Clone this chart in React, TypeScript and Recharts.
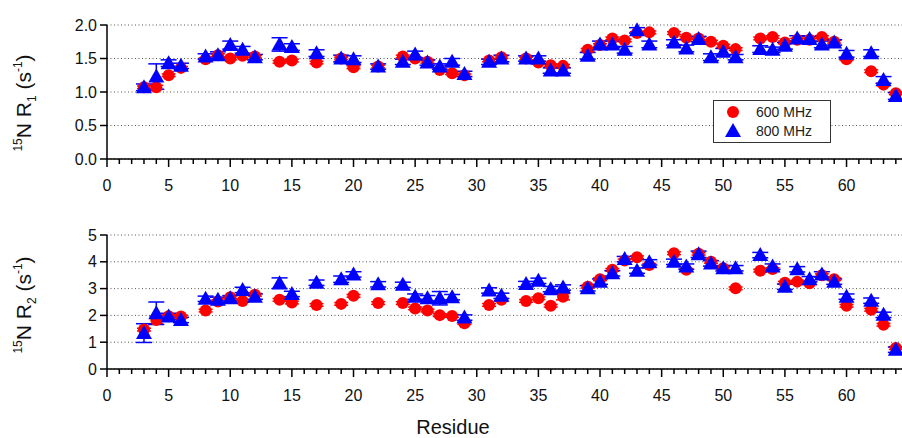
import React from "react";
import { ScatterChart, Scatter, XAxis, YAxis, CartesianGrid, ErrorBar } from "recharts";

const residues = [3,4,5,6,8,9,10,11,12,14,15,17,19,20,22,24,25,26,27,28,29,31,32,34,35,36,37,39,40,41,42,43,44,46,47,48,49,50,51,53,54,55,56,57,58,59,60,62,63,64];

const r1_600 = [1.07,1.07,1.25,1.36,1.49,1.55,1.50,1.54,1.53,1.45,1.47,1.44,1.50,1.37,1.38,1.53,1.50,1.45,1.33,1.28,1.25,1.47,1.52,1.50,1.44,1.40,1.39,1.63,1.70,1.80,1.77,1.88,1.89,1.88,1.81,1.80,1.75,1.69,1.64,1.80,1.82,1.74,1.78,1.78,1.82,1.75,1.49,1.31,1.11,0.98];
const r1_800 = [1.07,1.23,1.43,1.39,1.53,1.55,1.70,1.63,1.52,1.71,1.67,1.58,1.50,1.49,1.38,1.45,1.56,1.44,1.38,1.45,1.27,1.45,1.50,1.50,1.50,1.32,1.32,1.54,1.71,1.71,1.63,1.92,1.71,1.74,1.65,1.79,1.52,1.60,1.52,1.64,1.63,1.69,1.80,1.79,1.71,1.74,1.57,1.58,1.18,0.94];
const r1_600_err = [0.02,0.03,0.02,0.02,0.02,0.02,0.02,0.02,0.02,0.02,0.02,0.02,0.02,0.02,0.02,0.02,0.02,0.02,0.02,0.02,0.02,0.02,0.02,0.02,0.02,0.02,0.02,0.02,0.02,0.02,0.02,0.02,0.02,0.02,0.02,0.02,0.02,0.02,0.02,0.02,0.02,0.02,0.02,0.02,0.02,0.02,0.02,0.02,0.02,0.02];
const r1_800_err = [0.05,0.19,0.05,0.04,0.04,0.05,0.06,0.05,0.04,0.10,0.05,0.05,0.05,0.05,0.04,0.04,0.05,0.04,0.04,0.05,0.04,0.04,0.05,0.04,0.04,0.04,0.04,0.05,0.05,0.05,0.05,0.04,0.05,0.04,0.05,0.04,0.05,0.05,0.04,0.05,0.04,0.05,0.04,0.04,0.05,0.04,0.05,0.05,0.05,0.05];

const r2_600 = [1.47,1.83,1.97,1.96,2.18,2.52,2.68,2.54,2.77,2.58,2.48,2.39,2.43,2.73,2.46,2.46,2.26,2.18,2.01,1.98,1.71,2.39,2.58,2.54,2.64,2.36,2.70,3.07,3.35,3.70,4.05,4.17,3.88,4.32,3.70,4.30,4.00,3.76,3.01,3.67,3.73,3.22,3.26,3.20,3.50,3.35,2.36,2.21,1.65,0.78];
const r2_800 = [1.34,2.08,1.96,1.83,2.62,2.58,2.64,2.95,2.70,3.20,2.80,3.22,3.35,3.53,3.16,3.14,2.70,2.64,2.64,2.68,1.92,2.93,2.73,3.17,3.29,2.98,3.04,3.01,3.26,3.57,4.10,3.67,3.98,4.00,3.82,4.28,3.94,3.76,3.76,4.25,3.82,3.07,3.72,3.35,3.53,3.26,2.70,2.55,2.02,0.72];
const r2_600_err = [0.05,0.14,0.05,0.05,0.05,0.05,0.05,0.05,0.05,0.05,0.05,0.05,0.05,0.05,0.05,0.05,0.05,0.05,0.05,0.05,0.05,0.05,0.05,0.05,0.05,0.05,0.12,0.05,0.05,0.05,0.05,0.05,0.05,0.05,0.05,0.05,0.05,0.05,0.05,0.05,0.05,0.05,0.05,0.05,0.05,0.05,0.05,0.05,0.05,0.05];
const r2_800_err = [0.35,0.42,0.12,0.1,0.1,0.1,0.1,0.1,0.1,0.2,0.1,0.1,0.12,0.1,0.1,0.1,0.1,0.1,0.25,0.1,0.1,0.1,0.1,0.1,0.1,0.1,0.1,0.1,0.1,0.1,0.1,0.1,0.1,0.1,0.1,0.12,0.1,0.1,0.1,0.1,0.1,0.1,0.1,0.1,0.1,0.1,0.1,0.1,0.1,0.1];

const xTicks = Array.from({ length: 65 }, (_, i) => i);
const r1Ticks = [0, 0.5, 1, 1.5, 2];
const r2Ticks = [0, 1, 2, 3, 4, 5];

const FONT = "'Liberation Sans', Arial, sans-serif";

const mk = (vals: number[], errs: number[]) => residues.map((r, i) => ({ x: r, y: vals[i], e: errs[i] }));

const RedDot = (p: any) => <circle cx={p.cx} cy={p.cy} r={6} fill="#ff0000" />;
const BlueTri = (p: any) => {
  const s = 8;
  return <polygon points={`${p.cx},${p.cy - s} ${p.cx - s},${p.cy + 6} ${p.cx + s},${p.cy + 6}`} fill="#0000ff" />;
};

const XTick = (p: any) => {
  const { x, y, payload } = p;
  const major = payload.value % 5 === 0;
  return (
    <g>
      <line x1={x} x2={x} y1={y} y2={y + (major ? 8 : 5)} stroke="#000" strokeWidth={1.5} />
      {major && (
        <text x={x} y={y + 32} textAnchor="middle" fontSize={16} fontFamily={FONT} fill="#111">
          {payload.value}
        </text>
      )}
    </g>
  );
};

function Panel({ red, blue, ticks, domain, height, top, bottom, xh, fmt }: any) {
  return (
    <ScatterChart width={902} height={height} margin={{ top, right: 0, bottom, left: 0 }}>
      <CartesianGrid horizontal vertical={false} stroke="#555" strokeDasharray="1 2.5" />
      <XAxis
        type="number"
        dataKey="x"
        domain={[0, 64.5]}
        ticks={xTicks}
        interval={0}
        tick={<XTick />}
        tickLine={false}
        tickSize={0}
        tickMargin={0}
        height={xh}
        axisLine={{ stroke: "#000", strokeWidth: 1.5 }}
        allowDataOverflow
      />
      <YAxis
        type="number"
        dataKey="y"
        domain={domain}
        ticks={ticks}
        width={107}
        tickSize={7}
        tickMargin={3}
        tickFormatter={fmt}
        tick={{ fontSize: 16, fontFamily: FONT, fill: "#111" }}
        tickLine={{ stroke: "#000", strokeWidth: 1.5 }}
        axisLine={{ stroke: "#000", strokeWidth: 1.5 }}
      />
      <Scatter data={red} shape={RedDot} isAnimationActive={false}>
        <ErrorBar dataKey="e" direction="y" width={7} stroke="#ff0000" strokeWidth={1.5} />
      </Scatter>
      <Scatter data={blue} shape={BlueTri} isAnimationActive={false}>
        <ErrorBar dataKey="e" direction="y" width={8} stroke="#0000ff" strokeWidth={1.5} />
      </Scatter>
    </ScatterChart>
  );
}

const YLabel = ({ x, y, sub }: any) => (
  <text transform={`translate(${x},${y}) rotate(-90)`} textAnchor="middle" fontFamily={FONT} fontSize={21} fill="#111">
    <tspan fontSize={12} dy={-9}>15</tspan>
    <tspan dy={9}>N R</tspan>
    <tspan fontSize={12} dy={5}>{sub}</tspan>
    <tspan dy={-5}> (s</tspan>
    <tspan fontSize={12} dy={-9}>-1</tspan>
    <tspan dy={9}>)</tspan>
  </text>
);

export default function App() {
  return (
    <div style={{ position: "absolute", left: 0, top: 0, width: 902, height: 438, background: "#fff", overflow: "hidden" }}>
      <div style={{ position: "absolute", left: 0, top: 0 }}>
        <Panel red={mk(r1_600, r1_600_err)} blue={mk(r1_800, r1_800_err)} ticks={r1Ticks} domain={[0, 2]}
          height={200} top={25} bottom={10} xh={31} fmt={(v: number) => v.toFixed(1)} />
      </div>
      <div style={{ position: "absolute", left: 0, top: 200 }}>
        <Panel red={mk(r2_600, r2_600_err)} blue={mk(r2_800, r2_800_err)} ticks={r2Ticks} domain={[0, 5]}
          height={238} top={35} bottom={39} xh={30} fmt={(v: number) => String(v)} />
      </div>
      <svg width={902} height={438} style={{ position: "absolute", left: 0, top: 0, pointerEvents: "none" }}>
        <YLabel x={31} y={103} sub="1" />
        <YLabel x={31} y={305} sub="2" />
        <text x={453} y={434} textAnchor="middle" fontFamily={FONT} fontSize={20} fill="#111">Residue</text>
        <rect x={713.5} y={100.5} width={117} height={42} fill="#fff" stroke="#333" strokeWidth={1} />
        <circle cx={733} cy={112} r={6} fill="#ff0000" />
        <polygon points="733,123 725,137 741,137" fill="#0000ff" />
        <text x={756} y={117} fontFamily={FONT} fontSize={14} fill="#222">600 MHz</text>
        <text x={756} y={136} fontFamily={FONT} fontSize={14} fill="#222">800 MHz</text>
      </svg>
    </div>
  );
}
